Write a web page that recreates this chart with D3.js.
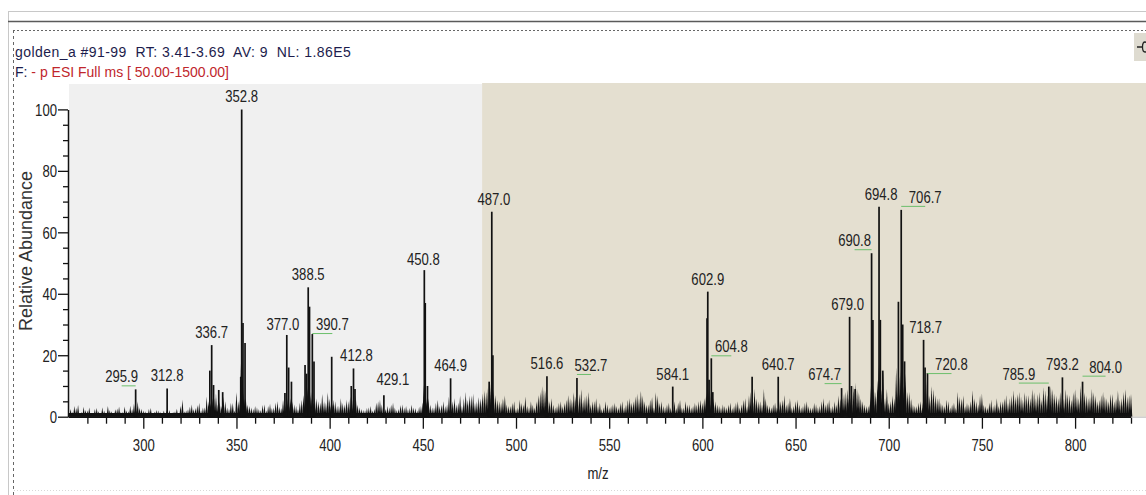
<!DOCTYPE html>
<html>
<head>
  <meta charset="utf-8">
  <script src="https://d3js.org/d3.v7.min.js"></script>
  <style>
    body { margin: 0; background: #fff; }
    svg text { font-family: "Liberation Sans", Arial, sans-serif; }
  </style>
</head>
<body>
<svg id="chart" width="1146" height="495"></svg>
<script>
  /*
    Spectrum data (m/z, relative abundance %)
  */
  var headerText = "golden_a #91-99  RT: 3.41-3.69  AV: 9  NL: 1.86E5";
  var filterPrefix = "F:";
  var filterText = " - p ESI Full ms [ 50.00-1500.00]";

  var peakMz = [295.9, 312.8, 335.7, 336.7, 337.7, 340.5, 342.6, 352.3, 352.8, 353.5, 354.6,
    376.0, 377.0, 378.0, 379.5, 386.8, 387.6, 388.5, 389.2, 390.7, 391.6, 401.1, 411.6, 412.8,
    413.6, 429.1, 450.8, 451.3, 452.5, 464.9, 485.6, 487.0, 487.6, 516.6, 532.7, 584.1, 602.5,
    602.9, 603.6, 604.8, 605.6, 626.7, 640.7, 674.7, 679.0, 680.0, 682.0, 690.8, 691.5, 694.8,
    695.5, 696.8, 705.2, 706.7, 707.5, 708.5, 718.7, 719.5, 720.8, 785.9, 793.2, 804.0];
  var peakInt = [8.9, 9.2, 15, 23.3, 10.3, 8.7, 8.0, 13, 100, 30.5, 24,
    7.7, 26.6, 16, 11.4, 16.8, 14, 42.1, 35.8, 26.9, 18, 19.5, 10, 15.7,
    9, 7, 47.7, 37, 10, 12.5, 11.4, 66.7, 20, 13.2, 12.6, 9.8, 32,
    40.7, 12, 19, 8, 13, 13, 9.3, 32.5, 10, 9, 53.2, 31.5, 68.3,
    31.5, 15, 37.4, 67.3, 30, 18, 25, 16, 14.2, 9.8, 12.8, 11.4];

  // labelled peaks
  var labelMz = ["295.9", "312.8", "336.7", "352.8", "377.0", "388.5", "390.7", "412.8", "429.1",
    "450.8", "464.9", "487.0", "516.6", "532.7", "584.1", "602.9", "604.8", "640.7", "674.7",
    "679.0", "690.8", "694.8", "706.7", "718.7", "720.8", "785.9", "793.2", "804.0"];

  // baseline noise, odd m/z from 261
  var noiseOddStart = 261;
  var noiseOdd = [
    2.5, 3.5, 3.8, 1.5, 2.2, 3.0, 1.2, 2.8, 1.0, 2.0, 3.5, 1.8, 2.4, 3.2, 1.5, 2.0, 3.6, 4.2, 5.0, 2.6, 1.8, 2.5, 1.2, 2.2, 1.6,
    2.0, 1.5, 1.0, 1.8, 0.8, 5.5, 2.0, 3.2, 2.5, 3.8, 2.0, 3.0, 5.0, 6.0, 7.5, 5.0, 6.5, 3.0, 4.5, 2.0, 5.0, 4.0, 6.0, 3.5, 2.5,
    3.0, 2.2, 4.0, 3.5, 2.8, 4.5, 3.2, 5.5, 4.0, 6.0, 4.0, 2.5, 5.5, 7.0, 6.0, 5.0, 6.0, 4.5, 5.0, 8.0, 6.0, 5.0, 3.5, 4.5, 5.5,
    6.5, 5.0, 4.0, 2.5, 2.0, 3.0, 2.0, 4.5, 5.5, 3.0, 3.5, 4.0, 3.0, 2.5, 4.0, 3.5, 2.8, 3.0, 2.0, 3.5, 6.0, 6.0, 3.0, 4.5, 3.5,
    5.0, 4.0, 5.5, 6.0, 4.5, 3.5, 8.0, 7.0, 7.5, 5.0, 6.0, 8.5, 10, 6.0, 7.0, 5.0, 6.0, 4.0, 3.5, 5.0, 3.0, 4.5, 6.5, 3.0, 4.0,
    5.0, 8.0, 9.0, 7.0, 6.0, 3.0, 4.5, 3.5, 5.5, 6.0, 8.0, 6.0, 9.0, 6.5, 8.0, 5.0, 6.0, 4.5, 3.0, 4.0, 3.5, 4.5, 3.0, 5.0, 4.0,
    6.0, 5.0, 7.5, 8.5, 5.0, 4.0, 6.5, 8.0, 4.5, 3.5, 4.0, 3.0, 5.0, 4.5, 3.0, 5.0, 4.0, 3.5, 4.0, 5.5, 6.0, 8.0, 7.0, 5.0, 3.5,
    4.0, 3.0, 4.5, 3.5, 5.0, 4.0, 6.0, 7.0, 6.5, 6.0, 5.0, 9.0, 4.0, 3.0, 4.5, 6.0, 5.5, 4.0, 6.0, 3.5, 5.5, 3.0, 4.5, 3.5, 3.0,
    4.0, 3.5, 6.0, 4.5, 3.0, 5.0, 7.0, 6.0, 8.0, 9.0, 10, 9.0, 6.0, 4.0, 3.5, 9.0, 8.0, 9.0, 15, 9.0, 5.0, 6.0, 12, 11, 14,
    8.0, 4.0, 3.5, 5.0, 9.0, 8.0, 10, 7.0, 6.0, 4.0, 5.5, 3.0, 4.5, 8.0, 6.0, 3.5, 4.0, 8.5, 5.0, 7.0, 4.0, 3.0, 5.5, 4.0, 3.5,
    5.0, 7.0, 6.0, 8.5, 7.5, 6.5, 8.0, 7.0, 9.0, 6.0, 8.0, 9.5, 7.0, 10, 7.5, 6.0, 8.0, 9.0, 7.0, 8.0, 6.5, 10, 8.0, 6.0, 9.0,
    7.0, 5.5, 8.0, 6.0, 7.5, 5.0, 8.5, 6.0, 9.0, 7.0];

  // baseline noise, even m/z from 262
  var noiseEvenStart = 262;
  var noiseEven = [
    1.5, 2.8, 1.0, 3.2, 2.0, 1.2, 2.5, 1.8, 3.0, 1.4, 2.2, 1.0, 2.7, 1.5, 3.3, 1.8, 2.5, 3.5, 3.0, 2.0, 1.4, 2.8, 1.6, 2.0, 1.2,
    1.0, 2.2, 1.5, 2.6, 3.5, 1.8, 2.4, 4.0, 2.8, 4.5, 3.0, 6.5, 4.5, 6.0, 4.0, 3.5, 5.0, 2.5, 4.5, 8.0, 6.5, 5.0, 4.0, 3.0, 3.5,
    2.5, 3.8, 2.0, 4.2, 3.0, 5.0, 2.8, 4.0, 6.5, 5.0, 3.5, 4.5, 7.0, 9.0, 8.0, 6.5, 5.0, 7.5, 4.5, 6.0, 5.5, 3.5, 6.0, 4.0, 5.0,
    5.5, 7.0, 3.0, 2.2, 2.8, 3.5, 2.5, 5.0, 4.0, 2.5, 3.0, 4.5, 2.2, 3.8, 3.0, 2.4, 4.0, 2.8, 3.2, 4.5, 5.0, 4.0, 3.0, 5.5, 4.0,
    3.5, 6.5, 5.0, 4.0, 7.0, 6.0, 5.5, 7.0, 4.5, 6.5, 7.5, 8.0, 9.0, 8.5, 5.5, 4.5, 7.0, 3.5, 4.5, 2.5, 5.5, 4.0, 3.5, 5.0, 3.0,
    7.0, 10, 8.5, 5.0, 4.0, 3.5, 5.0, 4.5, 7.0, 5.5, 6.5, 7.5, 5.5, 7.0, 4.0, 5.0, 3.5, 2.5, 5.0, 3.0, 4.0, 3.5, 4.5, 3.0, 5.5,
    4.5, 6.5, 6.0, 7.0, 4.0, 5.5, 3.0, 7.0, 5.0, 3.0, 4.5, 3.5, 2.8, 5.5, 3.0, 4.0, 3.0, 4.5, 5.0, 4.5, 7.0, 9.0, 6.0, 4.0, 3.0,
    3.5, 4.0, 2.8, 4.5, 3.0, 5.5, 3.5, 8.0, 9.0, 5.0, 4.0, 6.0, 3.5, 4.0, 3.0, 5.0, 7.0, 4.5, 3.0, 5.0, 4.0, 3.5, 5.0, 3.0, 4.5,
    3.0, 5.0, 4.0, 5.5, 3.5, 4.0, 6.0, 7.5, 9.0, 7.0, 11, 8.0, 5.0, 3.5, 4.5, 10, 12, 9.0, 6.0, 4.5, 7.0, 16, 13, 10, 8.0,
    6.0, 3.5, 4.5, 3.0, 12, 7.0, 9.0, 6.0, 4.5, 3.5, 5.0, 4.0, 3.0, 6.5, 7.0, 4.5, 5.0, 6.0, 4.0, 7.5, 3.5, 4.5, 3.5, 6.0, 5.0,
    6.0, 4.5, 7.0, 6.5, 8.0, 5.5, 7.0, 6.0, 8.0, 7.5, 5.5, 8.5, 6.5, 9.0, 7.0, 8.0, 6.0, 7.5, 5.5, 9.0, 6.0, 11, 7.0, 6.5, 8.0,
    5.0, 7.0, 6.5, 5.0, 7.5, 6.0, 5.5, 8.0, 6.5, 7.5];

  var xTicks = [300, 350, 400, 450, 500, 550, 600, 650, 700, 750, 800];
  var yTicks = [0, 20, 40, 60, 80, 100];

  /*
    label nudges (px) where the software moved a label off its peak
  */
  var labelNudge = {
    "295.9": [-14, 0], "377.0": [-4, 2], "390.7": [20, 3], "412.8": [3, 0], "429.1": [9, -3],
    "450.8": [-1, 2], "532.7": [14, 0], "604.8": [20, 1], "674.7": [-17, -1], "679.0": [-2, 0],
    "690.8": [-17, 0], "694.8": [2, 0], "706.7": [24, 0], "718.7": [2, 0], "720.8": [24, 4],
    "785.9": [-30, 0], "804.0": [23, -2], "487.0": [2, 0]
  };

  var narrow = 0.82;   // the instrument font is a condensed face
  var svg = d3.select("#chart");
  var x = d3.scaleLinear().domain([259.6, 830]).range([68, 1131]);
  var y = d3.scaleLinear().domain([0, 100]).range([416.7, 109.4]);

  /*
    window frame
  */
  svg.append("line").attr("x1", 8).attr("x2", 1146).attr("y1", 11.5).attr("y2", 11.5)
    .attr("stroke", "#c8c8c8");
  svg.append("line").attr("x1", 8.5).attr("x2", 8.5).attr("y1", 11).attr("y2", 495)
    .attr("stroke", "#c8c8c8");
  svg.append("line").attr("x1", 8).attr("x2", 1146).attr("y1", 21.5).attr("y2", 21.5)
    .attr("stroke", "#5a5a5a").attr("stroke-width", 1.5);
  svg.append("line").attr("x1", 13).attr("x2", 1146).attr("y1", 30.5).attr("y2", 30.5)
    .attr("stroke", "#666").attr("stroke-dasharray", "2,2");
  svg.append("line").attr("x1", 13.5).attr("x2", 13.5).attr("y1", 30).attr("y2", 495)
    .attr("stroke", "#666").attr("stroke-dasharray", "3,3");
  svg.append("line").attr("x1", 14).attr("x2", 1146).attr("y1", 490.5).attr("y2", 490.5)
    .attr("stroke", "#d8d8d8").attr("stroke-dasharray", "1,2");

  // pin icon, top right
  svg.append("rect").attr("x", 1134).attr("y", 33).attr("width", 14).attr("height", 28)
    .attr("fill", "#dedbd0");
  svg.append("line").attr("x1", 1137).attr("x2", 1143).attr("y1", 47).attr("y2", 47)
    .attr("stroke", "#222").attr("stroke-width", 1.5);
  svg.append("ellipse").attr("cx", 1145).attr("cy", 47).attr("rx", 2.5).attr("ry", 5)
    .attr("fill", "none").attr("stroke", "#222").attr("stroke-width", 1.3);

  /*
    header text
  */
  svg.append("text").attr("x", 15).attr("y", 57)
    .style("font-size", "14px").style("letter-spacing", "0.45px").attr("fill", "#1c1c4c")
    .attr("xml:space", "preserve").text(headerText);
  var f = svg.append("text").attr("x", 15).attr("y", 77)
    .style("font-size", "14px").attr("xml:space", "preserve");
  f.append("tspan").attr("fill", "#1c1c4c").text(filterPrefix);
  f.append("tspan").attr("fill", "#c0262c").text(filterText);

  /*
    plot backgrounds
  */
  svg.append("rect").attr("x", 69).attr("y", 84).attr("width", x(481.8) - 69)
    .attr("height", y(0) - 84).attr("fill", "#f0f0f0");
  svg.append("rect").attr("x", x(481.8)).attr("y", 83).attr("width", 1146 - x(481.8))
    .attr("height", y(0) - 83).attr("fill", "#e4dfd0");

  /*
    spectrum: noise spikes, then main peaks
  */
  var g = svg.append("g");
  var noisePts = noiseOdd.map(function(v, i) { return [noiseOddStart + i * 2, v]; })
    .concat(noiseEven.map(function(v, i) { return [noiseEvenStart + i * 2, v]; }));
  g.selectAll("path.noise").data(noisePts).enter().append("path")
    .attr("class", "noise")
    .attr("d", function(d) {
      return "M" + x(d[0] - 0.7) + "," + y(0) + "L" + x(d[0]) + "," + y(d[1]) +
        "L" + x(d[0] + 0.7) + "," + y(0) + "Z";
    })
    .attr("fill", "#111");
  g.append("rect").attr("x", x(260)).attr("y", y(1.2)).attr("width", x(830) - x(260))
    .attr("height", y(0) - y(1.2)).attr("fill", "#111");

  var peaks = peakMz.map(function(m, i) { return [m, peakInt[i]]; });
  g.selectAll("path.peak").data(peaks).enter().append("path")
    .attr("class", "peak")
    .attr("d", function(d) {
      return "M" + x(d[0] - 1.2) + "," + y(0) + "L" + x(d[0]) + "," + y(d[1] * 0.25) +
        "L" + x(d[0] + 1.2) + "," + y(0) + "Z";
    })
    .attr("fill", "#111");
  g.selectAll("line.peak").data(peaks).enter().append("line")
    .attr("class", "peak")
    .attr("x1", function(d) { return x(d[0]); })
    .attr("x2", function(d) { return x(d[0]); })
    .attr("y1", y(0))
    .attr("y2", function(d) { return y(d[1]); })
    .attr("stroke", "#111").attr("stroke-width", 1.7);

  /*
    axes
  */
  var xAxis = svg.append("g").attr("transform", "translate(0," + y(0) + ")")
    .call(d3.axisBottom(x).tickValues(xTicks).tickSize(12).tickSizeOuter(0).tickPadding(11));
  svg.append("g").attr("transform", "translate(0," + y(0) + ")")
    .call(d3.axisBottom(x).tickValues(d3.range(270, 831, 10).filter(function(v) { return v % 50; }))
      .tickSize(7).tickFormat(""))
    .select(".domain").remove();
  var yAxis = svg.append("g").attr("transform", "translate(68,0)")
    .call(d3.axisLeft(y).tickValues(yTicks).tickSize(10).tickSizeOuter(0));
  svg.append("g").attr("transform", "translate(68,0)")
    .call(d3.axisLeft(y).tickValues(d3.range(5, 100, 5).filter(function(v) { return v % 20; }))
      .tickSize(5).tickFormat(""))
    .select(".domain").remove();

  svg.selectAll(".tick line").attr("stroke", "#111").attr("stroke-width", 1.3);
  svg.selectAll(".domain").attr("stroke", "#111").attr("stroke-width", 1.5);
  xAxis.selectAll("text").style("font-size", "16px").attr("fill", "#222")
    .attr("transform", "scale(" + narrow + ",1)");
  yAxis.selectAll("text").style("font-size", "16px").attr("fill", "#222")
    .attr("x", -11 / narrow).attr("dy", "0.36em")
    .attr("transform", "scale(" + narrow + ",1)");
  svg.append("line").attr("x1", 1131).attr("x2", 1146).attr("y1", y(0) + 0.5).attr("y2", y(0) + 0.5)
    .attr("stroke", "#bbb");

  svg.append("text").attr("transform", "translate(598,479) scale(" + narrow + ",1)")
    .attr("text-anchor", "middle")
    .style("font-size", "16px").attr("fill", "#222").text("m/z");
  svg.append("text").attr("transform", "translate(32,251) rotate(-90)").attr("text-anchor", "middle")
    .style("font-size", "18px").attr("fill", "#333").text("Relative Abundance");

  /*
    peak labels with green connectors
  */
  var labelData = labelMz.map(function(s) {
    var m = +s, i = peakMz.indexOf(m), n = labelNudge[s] || [0, 0];
    return { text: s, px: x(m), lx: x(m) + n[0], ly: y(peakInt[i]) - 7 + n[1] };
  });
  svg.selectAll("text.plabel").data(labelData).enter().append("text")
    .attr("class", "plabel")
    .attr("transform", function(d) {
      return "translate(" + d.lx + "," + d.ly + ") scale(" + narrow + ",1)";
    })
    .attr("text-anchor", "middle")
    .style("font-size", "16px").attr("fill", "#222")
    .text(function(d) { return d.text; });
  svg.selectAll("line.conn").data(labelData.filter(function(d) { return Math.abs(d.lx - d.px) > 10; }))
    .enter().append("line")
    .attr("class", "conn")
    .attr("x1", function(d) { return d.lx; })
    .attr("x2", function(d) { return d.px; })
    .attr("y1", function(d) { return d.ly + 3.5; })
    .attr("y2", function(d) { return d.ly + 3.5; })
    .attr("stroke", "#6cbf6c").attr("stroke-width", 1);
</script>
</body>
</html>
